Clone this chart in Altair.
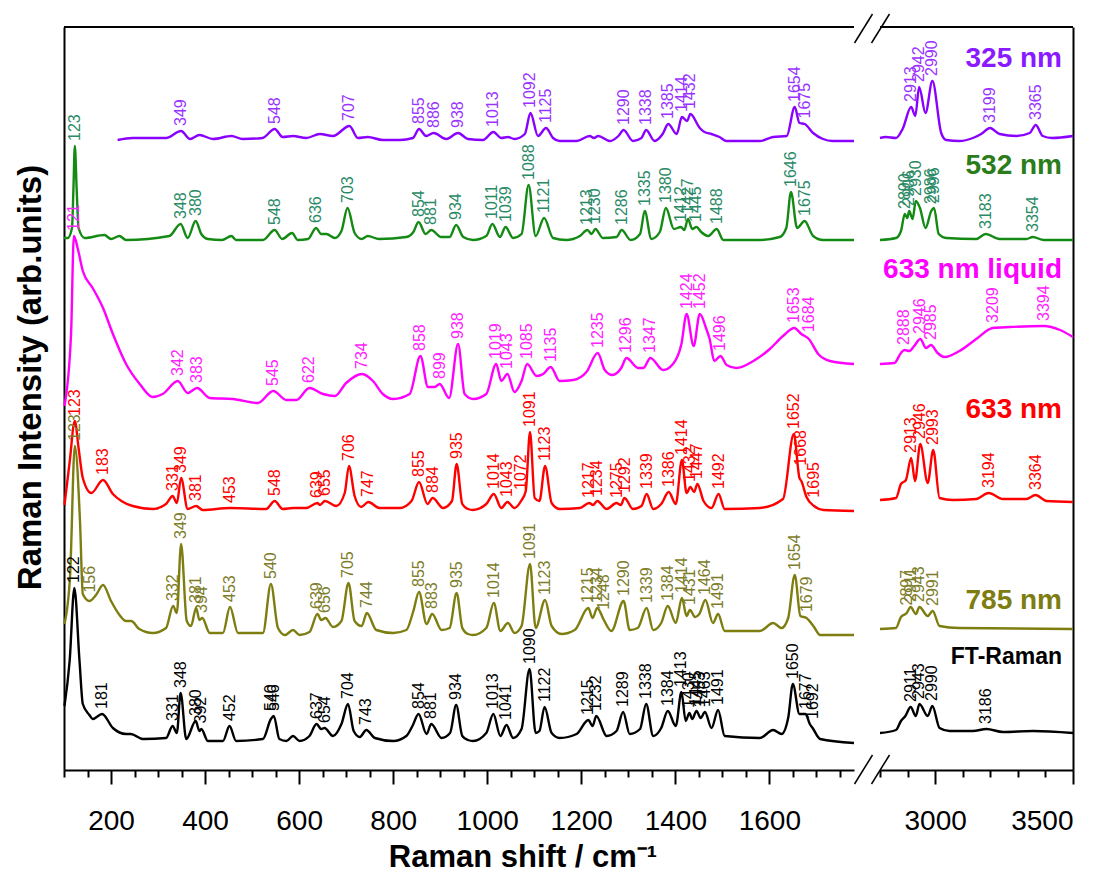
import altair as alt
import numpy as np
import pandas as pd

# ---------------- series metadata ----------------
TRACES = ["325 nm", "532 nm", "633 nm liquid", "633 nm", "785 nm", "FT-Raman"]
LINE_COLORS = ["#8a00ff", "#138a13", "#ff00ff", "#ff0000", "#7d7d10", "#000000"]
LABEL_COLORS = ["#9a33ff", "#2a8a66", "#ff22ff", "#ff0000", "#7d7d2a", "#000000"]
NAME_COLORS = ["#8a1aff", "#2a7d1a", "#ff00ff", "#ff0000", "#7d7d10", "#000000"]

# ---------------- spectra (shift in cm-1, intensity above each trace's own baseline) ----------------
# 325 nm
P325_L_X = [214, 246, 317, 349, 368, 388, 417, 456, 480, 522, 548, 565, 587, 615, 644, 672, 707, 725, 746, 778,
            814, 842, 855, 870, 886, 913, 938, 959, 991, 1013, 1030, 1044, 1058, 1080, 1092, 1108, 1125, 1140,
            1154, 1190, 1218, 1227, 1236, 1261, 1279, 1290, 1310, 1328, 1338, 1356, 1373, 1385, 1403, 1414, 1425,
            1432, 1452, 1462, 1477, 1494, 1508, 1580, 1608, 1637, 1654, 1664, 1675, 1693, 1714, 1735, 1780]
P325_L_Y = [1, 3, 3, 10, 2, 6, 2, 5, 2, 3, 12, 4, 5, 3, 7, 5, 15, 3, 4, 1,
            1, 3, 12, 5, 8, 2, 8, 2, 1, 9, 3, 4, 2, 7, 28, 5, 13, 3,
            0, 0, 5, 3, 5, 0, 5, 11, 0, 3, 11, 0, 7, 17, 7, 24, 20,
            27, 13, 9, 7, 4, 0, 0, 4, 5, 34, 18, 17, 8, 2, 0, 0]
P325_R_X = [2800, 2821, 2858, 2882, 2913, 2928, 2942, 2965, 2990, 3022, 3040, 3088, 3137, 3167, 3199, 3234, 3295,
            3343, 3365, 3390, 3424, 3500]
P325_R_Y = [3, 4, 3, 12, 34, 25, 54, 28, 60, 8, 1, 0, 3, 7, 13, 7, 5, 8, 16, 5, 3, 5]
P325_L_PEAKS = [349, 548, 707, 855, 886, 938, 1013, 1092, 1125, 1290, 1338, 1385, 1414, 1432, 1654, 1675]
P325_R_PEAKS = [2913, 2942, 2990, 3199, 3365]

# 532 nm
P532_L_X = [100, 108, 117, 120, 123, 127, 131, 144, 186, 200, 218, 232, 324, 348, 363, 380, 392, 406, 436, 456,
            466, 523, 548, 564, 585, 597, 619, 636, 647, 658, 676, 690, 703, 718, 733, 746, 770, 828, 843, 854,
            869, 881, 902, 920, 934, 949, 970, 998, 1011, 1027, 1039, 1055, 1073, 1088, 1103, 1121, 1140, 1168,
            1197, 1213, 1222, 1230, 1246, 1275, 1286, 1305, 1325, 1335, 1349, 1367, 1380, 1397, 1412, 1419, 1427,
            1436, 1445, 1455, 1470, 1488, 1502, 1580, 1622, 1636, 1646, 1659, 1675, 1693, 1714, 1780]
P532_L_Y = [2, 2, 12, 50, 94, 50, 12, 2, 5, 1, 4, 0, 4, 16, 2, 19, 6, 1, 0, 4,
            0, 0, 10, 1, 7, 0, 1, 12, 6, 6, 2, 9, 32, 7, 1, 4, 1, 3, 8, 18,
            6, 10, 3, 3, 15, 3, 0, 4, 16, 3, 13, 2, 6, 55, 4, 22, 2, 0,
            4, 10, 6, 11, 2, 3, 10, 0, 6, 29, 1, 8, 32, 11, 13, 10, 21,
            11, 13, 8, 4, 11, 0, 0, 3, 12, 48, 12, 19, 4, 0, 0]
P532_R_X = [2800, 2858, 2876, 2890, 2899, 2906, 2918, 2930, 2945, 2965, 2986, 2996, 3013, 3040, 3149, 3183, 3234,
            3331, 3354, 3394, 3500]
P532_R_Y = [0, 2, 9, 26, 22, 29, 21, 39, 32, 12, 29, 32, 6, 2, 1, 6, 1, 1, 3, 0, 0]
P532_L_PEAKS = [123, 348, 380, 548, 636, 703, 854, 881, 934, 1011, 1039, 1088, 1121, 1213, 1230, 1286, 1335, 1380,
                1412, 1427, 1445, 1488, 1646, 1675]
P532_R_PEAKS = [2890, 2906, 2930, 2986, 2996, 3183, 3354]

# 633 nm liquid
P633L_L_X = [101, 115, 121, 129, 140, 161, 183, 204, 232, 261, 289, 310, 342, 363, 383, 410, 459, 512, 545, 573,
             594, 622, 651, 676, 700, 734, 757, 778, 800, 835, 858, 874, 888, 899, 919, 938, 952, 970, 998, 1019,
             1030, 1043, 1058, 1073, 1085, 1105, 1119, 1135, 1154, 1183, 1211, 1235, 1250, 1266, 1285, 1296, 1321,
             1332, 1347, 1374, 1395, 1413, 1424, 1439, 1452, 1466, 1473, 1483, 1496, 1509, 1530, 1566, 1601, 1629,
             1653, 1668, 1684, 1704, 1729, 1780]
P633L_L_Y = [-5, 67, 165, 153, 130, 113, 93, 67, 37, 17, 4, 7, 20, 8, 13, 3, 2, -2, 10, 1,
             1, 13, 7, 5, 18, 27, 20, 7, 2, 7, 45, 14, 14, 17, 3, 57, 7, 2, 7, 37,
             20, 27, 9, 20, 37, 25, 27, 34, 20, 21, 29, 48, 31, 26, 33, 43, 33,
             33, 43, 31, 37, 57, 87, 55, 87, 72, 62, 40, 45, 36, 33, 40, 52, 65,
             73, 67, 62, 47, 40, 37]
P633L_R_X = [2800, 2852, 2876, 2888, 2906, 2924, 2946, 2967, 2985, 3009, 3034, 3088, 3149, 3209, 3270, 3394, 3453,
             3500]
P633L_R_Y = [37, 38, 48, 51, 50, 55, 62, 53, 56, 48, 44, 50, 62, 73, 74, 75, 71, 64]
P633L_L_PEAKS = [121, 342, 383, 545, 622, 734, 858, 899, 938, 1019, 1043, 1085, 1135, 1235, 1296, 1347, 1424, 1452,
                 1496, 1653, 1684]
P633L_R_PEAKS = [2888, 2946, 2985, 3209, 3394]

# 633 nm
P633_L_X = [101, 112, 123, 131, 140, 158, 183, 204, 222, 246, 289, 317, 331, 340, 349, 363, 381, 395, 453, 530,
            548, 565, 587, 615, 639, 644, 655, 679, 697, 706, 718, 732, 747, 771, 814, 839, 855, 873, 884, 906,
            925, 935, 947, 959, 970, 998, 1014, 1030, 1043, 1058, 1072, 1082, 1091, 1101, 1111, 1123, 1137, 1154,
            1197, 1217, 1225, 1234, 1254, 1275, 1284, 1292, 1310, 1328, 1339, 1353, 1370, 1386, 1401, 1414, 1424,
            1432, 1440, 1447, 1460, 1477, 1492, 1505, 1580, 1629, 1652, 1664, 1668, 1679, 1695, 1715, 1780]
P633_L_Y = [5, 48, 89, 62, 32, 17, 30, 16, 9, 4, 1, 6, 14, 7, 32, 1, 4, 0, 2, 1,
            9, 1, 2, 2, 7, 5, 9, 4, 17, 44, 14, 3, 8, 2, 2, 9, 28, 6, 12, 2,
            9, 46, 6, 1, 0, 6, 16, 2, 8, 2, 9, 19, 78, 12, 9, 44, 7, 1,
            2, 7, 5, 9, 1, 7, 5, 12, 1, 4, 16, 1, 6, 18, 6, 50, 17,
            23, 18, 26, 9, 2, 16, 1, 2, 11, 76, 32, 29, 13, 4, 0, -1]
P633_R_X = [2800, 2858, 2876, 2894, 2913, 2927, 2946, 2973, 2993, 3016, 3064, 3149, 3194, 3246, 3331, 3364, 3404,
            3500]
P633_R_Y = [10, 12, 26, 30, 52, 29, 66, 27, 60, 12, 10, 11, 17, 11, 11, 15, 9, 8]
P633_L_PEAKS = [123, 183, 331, 349, 381, 453, 548, 639, 655, 706, 747, 855, 884, 935, 1014, 1043, 1072, 1091, 1123,
                1217, 1234, 1275, 1292, 1339, 1386, 1414, 1432, 1447, 1492, 1652, 1668, 1695]
P633_R_PEAKS = [2913, 2946, 2993, 3194, 3364]

# 785 nm
P785_L_X = [101, 113, 123, 134, 140, 154, 168, 183, 200, 218, 232, 243, 260, 289, 317, 332, 340, 349, 361, 370,
            381, 388, 394, 410, 438, 453, 470, 523, 540, 555, 570, 587, 601, 622, 639, 647, 656, 672, 690, 705,
            718, 733, 744, 764, 800, 828, 843, 855, 871, 883, 903, 920, 935, 947, 959, 970, 998, 1014, 1028, 1044,
            1058, 1073, 1091, 1103, 1123, 1137, 1158, 1186, 1215, 1224, 1234, 1248, 1264, 1290, 1303, 1320, 1339,
            1353, 1370, 1384, 1401, 1414, 1424, 1431, 1442, 1451, 1464, 1480, 1491, 1505, 1580, 1608, 1626, 1640,
            1654, 1666, 1679, 1695, 1708, 1780]
P785_L_Y = [11, 60, 189, 114, 41, 34, 40, 50, 34, 20, 14, 14, 6, 2, 7, 29, 22, 91, 14, 9,
            27, 15, 17, 2, 2, 28, 2, 2, 51, 7, 0, 5, 0, 3, 21, 15, 17, 8, 14, 52,
            14, 9, 22, 5, 2, 5, 24, 43, 11, 21, 5, 7, 42, 7, 1, 0, 7, 32, 4, 12,
            2, 9, 71, 7, 35, 9, 1, 5, 27, 17, 27, 15, 4, 34, 5, 7, 27,
            5, 12, 29, 12, 37, 19, 25, 18, 21, 35, 12, 21, 4, 4, 12, 7, 17,
            60, 19, 17, 8, 0, 0]
P785_R_X = [2800, 2858, 2876, 2897, 2911, 2930, 2943, 2973, 2991, 3016, 3088, 3500]
P785_R_Y = [6, 7, 18, 22, 28, 21, 28, 19, 24, 9, 7, 6]
P785_L_PEAKS = [123, 156, 332, 349, 381, 394, 453, 540, 639, 656, 705, 744, 855, 883, 935, 1014, 1091, 1123, 1215,
                1234, 1248, 1290, 1339, 1384, 1414, 1431, 1464, 1491, 1654, 1679]
P785_R_PEAKS = [2897, 2911, 2943, 2991]

# FT-Raman
FT_L_X = [101, 112, 122, 133, 140, 154, 161, 181, 204, 232, 242, 268, 317, 331, 340, 348, 360, 380, 388, 392,
          406, 438, 452, 466, 523, 540, 546, 558, 573, 587, 601, 622, 637, 647, 654, 672, 690, 704, 716, 729,
          743, 761, 800, 828, 841, 854, 871, 881, 903, 921, 934, 947, 959, 970, 998, 1013, 1028, 1041, 1055,
          1073, 1090, 1103, 1111, 1122, 1137, 1154, 1190, 1215, 1224, 1232, 1254, 1275, 1289, 1303, 1325, 1338,
          1353, 1370, 1384, 1401, 1413, 1422, 1430, 1436, 1445, 1454, 1463, 1477, 1491, 1505, 1580, 1608, 1626,
          1640, 1650, 1664, 1677, 1686, 1692, 1708, 1780]
FT_L_Y = [35, 80, 153, 80, 37, 26, 22, 27, 13, 7, 7, 2, 3, 15, 8, 48, 2, 20, 10, 12,
          0, 0, 15, 0, 2, 22, 25, 2, 0, 5, 0, 5, 17, 12, 13, 5, 17, 37, 10, 4,
          11, 3, 0, 5, 15, 27, 7, 17, 3, 8, 36, 5, 1, 0, 8, 27, 5, 16, 3,
          12, 72, 8, 10, 34, 8, 3, 7, 21, 15, 25, 5, 10, 29, 7, 12, 37,
          5, 13, 30, 15, 49, 20, 28, 22, 30, 23, 29, 13, 31, 5, 3, 11, 7,
          23, 57, 27, 27, 17, 13, 2, -2]
FT_R_X = [2800, 2858, 2876, 2892, 2911, 2930, 2943, 2973, 2990, 3016, 3052, 3137, 3186, 3246, 3355, 3500]
FT_R_Y = [8, 11, 20, 25, 34, 25, 37, 25, 35, 13, 10, 10, 12, 9, 10, 8]
FT_L_PEAKS = [122, 181, 331, 348, 380, 392, 452, 540, 546, 637, 654, 704, 743, 854, 881, 934, 1013, 1041, 1090,
              1122, 1215, 1232, 1289, 1338, 1384, 1413, 1430, 1445, 1453, 1463, 1491, 1650, 1677, 1692]
FT_R_PEAKS = [2911, 2943, 2990, 3186]

SPECTRA = {
    "325 nm": (P325_L_X, P325_L_Y, P325_R_X, P325_R_Y, P325_L_PEAKS, P325_R_PEAKS),
    "532 nm": (P532_L_X, P532_L_Y, P532_R_X, P532_R_Y, P532_L_PEAKS, P532_R_PEAKS),
    "633 nm liquid": (P633L_L_X, P633L_L_Y, P633L_R_X, P633L_R_Y, P633L_L_PEAKS, P633L_R_PEAKS),
    "633 nm": (P633_L_X, P633_L_Y, P633_R_X, P633_R_Y, P633_L_PEAKS, P633_R_PEAKS),
    "785 nm": (P785_L_X, P785_L_Y, P785_R_X, P785_R_Y, P785_L_PEAKS, P785_R_PEAKS),
    "FT-Raman": (FT_L_X, FT_L_Y, FT_R_X, FT_R_Y, FT_L_PEAKS, FT_R_PEAKS),
}

# ---------------- layout / style constants ----------------
OFFSETS = [629, 530, 369, 260, 135, 29]      # vertical stacking of the traces
NAME_GAPS = [74, 66, 123, 92, 26, 77]        # name label height above each trace
NAME_SIZES = [28, 28, 28, 28, 28, 23]
W_L, W_R, H = 790, 193, 743
GAP = 26
LEFT_DOMAIN = [100, 1780]
RIGHT_DOMAIN = [2800, 3500]
FONT = "Liberation Sans"


def local_top(xs, ys, v):
    grid = np.arange(v - 6, v + 6.5, 0.5)
    return float(np.max(np.interp(grid, xs, ys)))


line_rows, label_rows, name_rows = [], [], []
for i, t in enumerate(TRACES):
    lx, ly, rx, ry, lp, rp = SPECTRA[t]
    off = OFFSETS[i]
    for panel, xs, ys, peaks in (("L", lx, ly, lp), ("R", rx, ry, rp)):
        for x, y in zip(xs, ys):
            line_rows.append({"trace": t, "panel": panel, "x": x, "y": off + y, "lc": LINE_COLORS[i]})
        for v in peaks:
            label_rows.append({"trace": t, "panel": panel, "x": v, "y": off + local_top(xs, ys, v),
                               "text": str(v), "lc": LABEL_COLORS[i]})
    name_rows.append({"name": t, "x": RIGHT_DOMAIN[1], "y": off + NAME_GAPS[i], "nc": NAME_COLORS[i],
                      "fs": NAME_SIZES[i]})

lines = pd.DataFrame(line_rows)
labels = pd.DataFrame(label_rows)
names = pd.DataFrame(name_rows)
one = pd.DataFrame({"k": [0]})

yscale = alt.Scale(domain=[0, H], nice=False, zero=False)
xl_scale = alt.Scale(domain=LEFT_DOMAIN, nice=False, zero=False)
xr_scale = alt.Scale(domain=RIGHT_DOMAIN, nice=False, zero=False)

major_l = "datum.value % 200 === 0"
major_r = "datum.value % 500 === 0"

ax_l = alt.Axis(values=list(range(100, 1781, 50)), format="d", grid=False,
                labelExpr=f"{major_l} ? datum.label : ''",
                tickSize={"condition": {"test": major_l, "value": 14}, "value": 7},
                title="Raman shift / cm\u207b\u00b9", titleX=458.5, titleAlign="center", titlePadding=7,
                titleFontSize=31)
ax_r = alt.Axis(values=list(range(2800, 3501, 100)), format="d", grid=False,
                labelExpr=f"{major_r} ? datum.label : ''",
                tickSize={"condition": {"test": major_r, "value": 14}, "value": 7}, title="")
ay_l = alt.Axis(labels=False, ticks=False, grid=False, title="Raman Intensity (arb.units)", titlePadding=17,
                titleY=350, titleAlign="center")
ay_r = alt.Axis(labels=False, ticks=False, grid=False, orient="right", title="")

XL = alt.X("x:Q", scale=xl_scale, axis=ax_l)
YL = alt.Y("y:Q", scale=yscale, axis=ay_l)
XR = alt.X("x:Q", scale=xr_scale, axis=ax_r)
YR = alt.Y("y:Q", scale=yscale, axis=ay_r)

text_kw = dict(angle=270, align="left", baseline="middle", dx=5, fontSize=16, font=FONT)
frame_kw = dict(color="black", strokeWidth=2)
slash_kw = dict(color="black", strokeWidth=1.5)

# ---------- left panel ----------
l_lines = alt.Chart(lines[lines.panel == "L"]).mark_line(strokeWidth=2.4, interpolate="monotone").encode(
    x=XL, y=YL, color=alt.Color("lc:N", scale=None), detail="trace:N",
)
l_labels = alt.Chart(labels[labels.panel == "L"]).mark_text(**text_kw).encode(
    x=XL, y=YL, text="text:N", color=alt.Color("lc:N", scale=None),
)
l_top = alt.Chart(one).mark_rule(**frame_kw).encode(x=alt.value(0), x2=alt.value(W_L), y=alt.value(0))
slashes = [
    alt.Chart(one).mark_rule(**slash_kw).encode(x=alt.value(x0), y=alt.value(y0), x2=alt.value(x0 + 18),
                                                y2=alt.value(y0 - 29))
    for x0 in (W_L + 0.5, W_L + 17.5) for y0 in (16, H + 14)
]
left = alt.layer(l_lines, l_labels, l_top, *slashes).properties(width=W_L, height=H)

# ---------- right panel ----------
r_lines = alt.Chart(lines[lines.panel == "R"]).mark_line(strokeWidth=2.4, interpolate="monotone").encode(
    x=XR, y=YR, color=alt.Color("lc:N", scale=None), detail="trace:N",
)
r_labels = alt.Chart(labels[labels.panel == "R"]).mark_text(**text_kw).encode(
    x=XR, y=YR, text="text:N", color=alt.Color("lc:N", scale=None),
)
r_names = alt.Chart(names).mark_text(align="right", baseline="alphabetic", fontWeight="bold", font=FONT,
                                     dx=-11).encode(
    x=XR, y=YR, text="name:N", color=alt.Color("nc:N", scale=None), size=alt.Size("fs:Q", scale=None),
)
r_top = alt.Chart(one).mark_rule(**frame_kw).encode(x=alt.value(0), x2=alt.value(W_R), y=alt.value(0))
right = alt.layer(r_lines, r_labels, r_names, r_top).properties(width=W_R, height=H)

chart = alt.hconcat(left, right, spacing=GAP, bounds="flush").resolve_scale(y="independent").properties(
    padding={"left": 6, "top": 5, "right": 5, "bottom": 0}
).configure_view(strokeWidth=0).configure_axis(
    domainColor="black", domainWidth=2, tickColor="black", tickWidth=2,
    labelFont=FONT, labelFontSize=28, labelColor="black", labelPadding=23,
    titleFont=FONT, titleFontSize=33, titleFontWeight="bold", titleColor="black",
)

chart.save("out.html", embed_options={"renderer": "svg", "actions": False})
